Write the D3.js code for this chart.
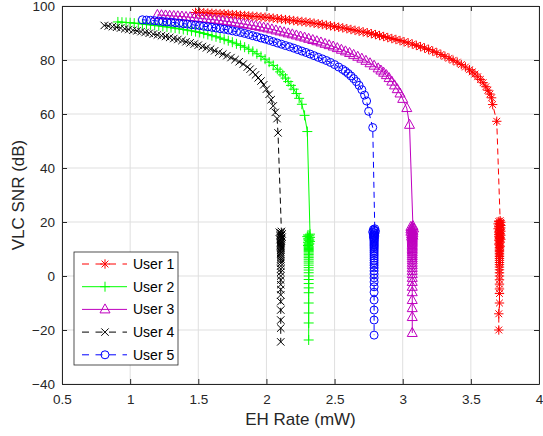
<!DOCTYPE html>
<html><head><meta charset="utf-8">
<script src="https://cdn.jsdelivr.net/npm/d3@7"></script>
<style>body{margin:0;background:#fff}svg{display:block;font-family:"Liberation Sans",Arial,sans-serif}</style>
</head><body><svg id="c" width="543" height="436"></svg>
<script>
const xTicks=[0.5,1,1.5,2,2.5,3,3.5,4];
const yTicks=[-40,-20,0,20,40,60,80,100];
const seriesNames=["User 1","User 2","User 3","User 4","User 5"];

// User 1 (red): upper trade-off curve, then vertical column
const user1=[[1.48,97.6],[1.51,97.55],[1.54,97.5],[1.57,97.4],[1.60,97.3],[1.63,97.2],[1.66,97.15],[1.69,97.05],[1.72,96.95],[1.75,96.8],[1.78,96.7],[1.81,96.55],[1.84,96.45],[1.87,96.3],[1.90,96.2],[1.93,96.1],[1.96,95.95],[1.99,95.85],[2.02,95.65],[2.05,95.5],[2.08,95.3],[2.11,95.15],[2.14,94.95],[2.17,94.8],[2.20,94.6],[2.23,94.4],[2.26,94.25],[2.29,94.05],[2.32,93.85],[2.35,93.6],[2.38,93.4],[2.41,93.15],[2.44,92.9],[2.47,92.65],[2.50,92.4],[2.53,92.15],[2.56,91.9],[2.59,91.6],[2.62,91.3],[2.65,91.0],[2.68,90.7],[2.71,90.4],[2.74,90.1],[2.77,89.75],[2.80,89.4],[2.83,89.05],[2.86,88.7],[2.89,88.3],[2.92,87.95],[2.95,87.6],[2.98,87.2],[3.01,86.75],[3.04,86.35],[3.07,85.9],[3.10,85.4],[3.13,84.95],[3.16,84.45],[3.19,83.9],[3.22,83.3],[3.25,82.7],[3.28,82.05],[3.31,81.35],[3.34,80.65],[3.37,79.9],[3.40,79.2],[3.43,78.3],[3.46,77.4],[3.49,76.4],[3.51,75.6],[3.53,74.8],[3.55,73.8],[3.57,72.8],[3.59,71.6],[3.61,70.1],[3.625,68.8],[3.64,67.4],[3.652,66.0],[3.66,63.5],[3.69,57.3],
[3.715,20.5],[3.705,20.2],[3.72,19.9],[3.71,19.6],[3.70,19.3],[3.715,19.0],[3.72,18.7],[3.705,18.4],[3.71,18.1],[3.72,17.8],[3.70,17.5],[3.715,17.2],[3.71,16.9],[3.72,16.6],[3.705,16.3],[3.71,16.0],[3.715,15.7],[3.705,15.4],[3.72,15.1],[3.71,14.8],[3.705,14.5],[3.715,14.2],[3.71,13.9],[3.72,13.6],[3.705,13.3],[3.71,13.0],[3.715,12.6],[3.71,12.2],[3.705,11.8],[3.71,11.4],[3.715,11.0],[3.71,10.5],[3.71,10.0],[3.71,9.5],[3.71,9.0],[3.71,8.4],[3.71,7.8],[3.71,7.2],[3.71,6.5],[3.71,5.8],[3.71,5.0],[3.71,4.2],[3.71,3.3],[3.71,2.3],[3.71,1.2],[3.71,0],[3.71,-1.4],[3.71,-3.0],[3.71,-4.8],[3.71,-6.5],[3.71,-10],[3.705,-14],[3.705,-20]];

// User 2 (green)
const user2=[[0.91,94.1],[0.94,94.0],[0.97,93.9],[1.00,93.8],[1.03,93.65],[1.06,93.5],[1.09,93.35],[1.12,93.2],[1.15,93.0],[1.18,92.85],[1.21,92.65],[1.24,92.45],[1.27,92.25],[1.30,92.0],[1.33,91.8],[1.36,91.55],[1.39,91.3],[1.42,91.05],[1.45,90.8],[1.48,90.5],[1.51,90.2],[1.54,89.85],[1.57,89.45],[1.60,89.0],[1.63,88.6],[1.66,88.15],[1.69,87.65],[1.72,87.15],[1.75,86.6],[1.78,86.0],[1.81,85.4],[1.84,84.75],[1.87,84.0],[1.90,83.2],[1.93,82.3],[1.96,81.35],[1.99,80.3],[2.02,79.2],[2.05,78.0],[2.08,76.6],[2.10,75.6],[2.12,74.5],[2.14,73.3],[2.16,72.0],[2.18,70.6],[2.20,69.2],[2.22,67.6],[2.24,65.8],[2.26,63.6],[2.28,59.5],[2.30,53.5],
[2.32,15.5],[2.305,15.2],[2.315,14.9],[2.30,14.6],[2.32,14.3],[2.31,14.0],[2.305,13.7],[2.315,13.4],[2.31,13.1],[2.32,12.8],[2.305,12.5],[2.31,12.2],[2.315,11.9],[2.31,11.6],[2.305,11.3],[2.31,11.0],[2.31,10.6],[2.31,10.2],[2.31,9.8],[2.31,9.4],[2.31,9.0],[2.31,8.5],[2.31,8.0],[2.31,7.4],[2.31,6.8],[2.31,6.2],[2.31,5.5],[2.31,4.8],[2.31,4.0],[2.31,3.1],[2.31,2.2],[2.31,1.2],[2.31,0],[2.31,-1.3],[2.31,-2.8],[2.31,-4.4],[2.31,-6.2],[2.31,-10],[2.31,-13.7],[2.31,-17.4],[2.31,-23.7]];

// User 3 (magenta)
const user3=[[1.20,96.7],[1.23,96.6],[1.26,96.5],[1.29,96.4],[1.32,96.3],[1.35,96.2],[1.38,96.1],[1.41,95.95],[1.44,95.85],[1.47,95.7],[1.50,95.5],[1.53,95.35],[1.56,95.2],[1.59,95.05],[1.62,94.9],[1.65,94.7],[1.68,94.5],[1.71,94.3],[1.74,94.1],[1.77,93.85],[1.80,93.6],[1.83,93.35],[1.86,93.1],[1.89,92.85],[1.92,92.6],[1.95,92.3],[1.98,92.0],[2.01,91.7],[2.04,91.35],[2.07,90.95],[2.10,90.6],[2.13,90.25],[2.16,89.85],[2.19,89.5],[2.22,89.1],[2.25,88.7],[2.28,88.3],[2.31,87.85],[2.34,87.4],[2.37,86.95],[2.40,86.5],[2.43,86.0],[2.46,85.5],[2.49,85.0],[2.52,84.4],[2.55,83.8],[2.58,83.2],[2.61,82.6],[2.64,81.9],[2.67,81.2],[2.70,80.5],[2.73,79.7],[2.76,78.8],[2.79,77.9],[2.82,76.9],[2.84,76.1],[2.86,75.3],[2.88,74.4],[2.90,73.3],[2.92,72.0],[2.94,70.6],[2.96,69.2],[2.98,67.6],[3.00,65.6],[3.03,62.2],[3.05,56.0],
[3.075,18.5],[3.06,18.2],[3.07,17.9],[3.08,17.6],[3.06,17.3],[3.07,17.0],[3.075,16.7],[3.06,16.4],[3.07,16.1],[3.075,15.8],[3.065,15.5],[3.07,15.2],[3.075,14.9],[3.065,14.6],[3.07,14.3],[3.07,14.0],[3.07,13.6],[3.07,13.2],[3.07,12.8],[3.07,12.4],[3.07,12.0],[3.07,11.5],[3.07,11.0],[3.07,10.5],[3.07,10.0],[3.07,9.4],[3.07,8.8],[3.07,8.1],[3.07,7.4],[3.07,6.6],[3.07,5.8],[3.07,4.9],[3.07,4.0],[3.07,3.0],[3.07,1.9],[3.07,0.7],[3.07,-0.7],[3.07,-2.2],[3.07,-4.0],[3.07,-6.0],[3.07,-8.9],[3.07,-11.9],[3.07,-15.2],[3.07,-21.1]];

// User 4 (black)
const user4=[[0.81,92.8],[0.84,92.6],[0.87,92.35],[0.90,92.1],[0.93,91.85],[0.96,91.55],[0.99,91.3],[1.02,91.0],[1.05,90.8],[1.08,90.5],[1.11,90.2],[1.14,89.9],[1.17,89.6],[1.20,89.3],[1.23,89.0],[1.26,88.7],[1.29,88.35],[1.32,87.95],[1.35,87.6],[1.38,87.2],[1.41,86.75],[1.44,86.35],[1.47,85.9],[1.50,85.5],[1.53,85.0],[1.56,84.5],[1.59,84.0],[1.62,83.4],[1.65,82.8],[1.68,82.2],[1.71,81.6],[1.74,80.9],[1.77,80.15],[1.80,79.35],[1.83,78.5],[1.86,77.4],[1.88,76.6],[1.90,75.6],[1.92,74.5],[1.94,73.4],[1.96,72.2],[1.98,70.8],[2.00,69.2],[2.02,67.3],[2.035,65.3],[2.05,63.0],[2.065,60.6],[2.078,58.3],[2.085,53.0],
[2.11,16.5],[2.095,16.2],[2.105,15.9],[2.115,15.6],[2.10,15.3],[2.11,15.0],[2.10,14.7],[2.115,14.4],[2.105,14.1],[2.11,13.8],[2.10,13.5],[2.105,13.2],[2.11,12.9],[2.105,12.6],[2.105,12.3],[2.105,12.0],[2.105,11.6],[2.105,11.2],[2.105,10.8],[2.105,10.4],[2.105,10.0],[2.105,9.5],[2.105,9.0],[2.105,8.4],[2.105,7.8],[2.105,7.1],[2.105,6.4],[2.105,5.6],[2.105,4.7],[2.105,3.7],[2.105,2.6],[2.105,1.4],[2.105,0],[2.105,-1.5],[2.105,-3.2],[2.105,-5.0],[2.105,-7.0],[2.105,-9.5],[2.105,-12.6],[2.105,-16.3],[2.105,-19.3],[2.105,-24.4]];

// User 5 (blue)
const user5=[[1.09,94.9],[1.12,94.8],[1.15,94.7],[1.18,94.55],[1.21,94.4],[1.24,94.25],[1.27,94.1],[1.30,94.0],[1.33,93.8],[1.36,93.65],[1.39,93.45],[1.42,93.3],[1.45,93.1],[1.48,92.9],[1.51,92.75],[1.54,92.5],[1.57,92.3],[1.60,92.1],[1.63,91.85],[1.66,91.6],[1.69,91.4],[1.72,91.1],[1.75,90.8],[1.78,90.5],[1.81,90.2],[1.84,89.85],[1.87,89.45],[1.90,89.0],[1.93,88.6],[1.96,88.15],[1.99,87.75],[2.02,87.3],[2.05,86.8],[2.08,86.3],[2.11,85.85],[2.14,85.35],[2.17,84.9],[2.20,84.4],[2.23,83.85],[2.26,83.3],[2.29,82.8],[2.32,82.2],[2.35,81.6],[2.38,81.0],[2.41,80.4],[2.44,79.8],[2.47,79.1],[2.50,78.3],[2.53,77.4],[2.56,76.5],[2.58,75.8],[2.60,75.0],[2.62,74.1],[2.64,73.1],[2.66,72.0],[2.68,70.6],[2.70,69.0],[2.72,67.0],[2.735,64.8],[2.75,61.0],[2.78,55.0],
[2.795,17.5],[2.785,17.2],[2.79,16.9],[2.80,16.6],[2.78,16.3],[2.79,16.0],[2.795,15.7],[2.785,15.4],[2.79,15.1],[2.795,14.8],[2.785,14.5],[2.79,14.2],[2.79,13.9],[2.79,13.6],[2.79,13.3],[2.79,13.0],[2.79,12.6],[2.79,12.2],[2.79,11.8],[2.79,11.4],[2.79,11.0],[2.79,10.5],[2.79,10.0],[2.79,9.4],[2.79,8.8],[2.79,8.1],[2.79,7.4],[2.79,6.6],[2.79,5.8],[2.79,4.9],[2.79,4.0],[2.79,3.0],[2.79,1.9],[2.79,0.7],[2.79,-0.7],[2.79,-2.2],[2.79,-4.0],[2.79,-6.0],[2.79,-8.9],[2.79,-12.6],[2.79,-16.3],[2.79,-21.9]];

const seriesData=[user1,user2,user3,user4,user5];
const colors=["#ff0000","#00ff00","#bf00bf","#000000","#0000ff"];
const dashes=["6,4",null,null,"6,4","6,4"];
const markers=["star","plus","tri","x","circle"];

const svg=d3.select("#c");
svg.append("rect").attr("width",543).attr("height",436).attr("fill","#fff");
const x=d3.scaleLinear().domain([0.5,4]).range([62,539]);
const y=d3.scaleLinear().domain([-40,100]).range([384,6]);

// grid
const g=svg.append("g");
g.selectAll(".gx").data(xTicks).join("line").attr("x1",d=>x(d)).attr("x2",d=>x(d)).attr("y1",y(-40)).attr("y2",y(100)).attr("stroke","#dfdfdf").attr("stroke-width",1);
g.selectAll(".gy").data(yTicks).join("line").attr("y1",d=>y(d)).attr("y2",d=>y(d)).attr("x1",x(0.5)).attr("x2",x(4)).attr("stroke","#dfdfdf").attr("stroke-width",1);

function markerPath(t){
  if(t==="star"){const r=4.7,a=3.4;return `M0,${-r}V${r}M${-r},0H${r}M${-a},${-a}L${a},${a}M${-a},${a}L${a},${-a}`;}
  if(t==="plus"){const r=5;return `M0,${-r}V${r}M${-r},0H${r}`;}
  if(t==="tri"){return "M0,-5.5L5,3.5L-5,3.5Z";}
  if(t==="x"){const a=3.7;return `M${-a},${-a}L${a},${a}M${-a},${a}L${a},${-a}`;}
  return d3.symbol().type(d3.symbolCircle).size(Math.PI*16)();
}

const line=d3.line().x(d=>x(d[0])).y(d=>y(d[1]));
seriesData.forEach((data,i)=>{
  const s=svg.append("g");
  s.append("path").attr("d",line(data)).attr("fill","none").attr("stroke",colors[i]).attr("stroke-width",1).attr("stroke-dasharray",dashes[i]);
  s.selectAll("path.m").data(data).join("path").attr("class","m")
   .attr("d",markerPath(markers[i])).attr("transform",d=>`translate(${x(d[0])},${y(d[1])})`)
   .attr("fill","none").attr("stroke",colors[i]).attr("stroke-width",1);
});

// axes
const ac="#262626";
const ax=svg.append("g").attr("transform",`translate(0,${y(-40)})`).call(d3.axisBottom(x).tickValues(xTicks).tickFormat(d3.format("")).tickSize(-5).tickSizeOuter(0).tickPadding(10));
const ay=svg.append("g").attr("transform",`translate(${x(0.5)},0)`).call(d3.axisLeft(y).tickValues(yTicks).tickSize(-5).tickSizeOuter(0).tickPadding(7));
const at=svg.append("g").attr("transform",`translate(0,${y(100)})`).call(d3.axisTop(x).tickValues(xTicks).tickFormat("").tickSize(-5).tickSizeOuter(0));
const ar=svg.append("g").attr("transform",`translate(${x(4)},0)`).call(d3.axisRight(y).tickValues(yTicks).tickFormat("").tickSize(-5).tickSizeOuter(0));
[ax,ay,at,ar].forEach(a=>{a.select(".domain").attr("stroke",ac);a.selectAll(".tick line").attr("stroke",ac);a.selectAll("text").attr("fill",ac).attr("font-size",13.5).attr("font-family","Liberation Sans, Arial, sans-serif");});

svg.append("text").attr("x",(x(0.5)+x(4))/2).attr("y",425).attr("text-anchor","middle").attr("font-size",17).attr("fill",ac).text("EH Rate (mW)");
svg.append("text").attr("transform",`translate(24,${(y(-40)+y(100))/2}) rotate(-90)`).attr("text-anchor","middle").attr("font-size",17).attr("fill",ac).text("VLC SNR (dB)");

// legend
const lg=svg.append("g");
lg.append("rect").attr("x",74).attr("y",252).attr("width",104).attr("height",113).attr("fill","#fff").attr("stroke",ac).attr("stroke-width",0.8);
seriesNames.forEach((n,i)=>{
  const cy=264+i*22.7;
  lg.append("line").attr("x1",82).attr("x2",127).attr("y1",cy).attr("y2",cy).attr("stroke",colors[i]).attr("stroke-width",1).attr("stroke-dasharray",dashes[i]?"7,6.5":null);
  lg.append("path").attr("d",markerPath(markers[i])).attr("transform",`translate(105,${cy})`).attr("fill","none").attr("stroke",colors[i]).attr("stroke-width",1);
  lg.append("text").attr("x",133).attr("y",cy+5).attr("font-size",14).attr("fill","#000").text(n);
});
</script></body></html>
